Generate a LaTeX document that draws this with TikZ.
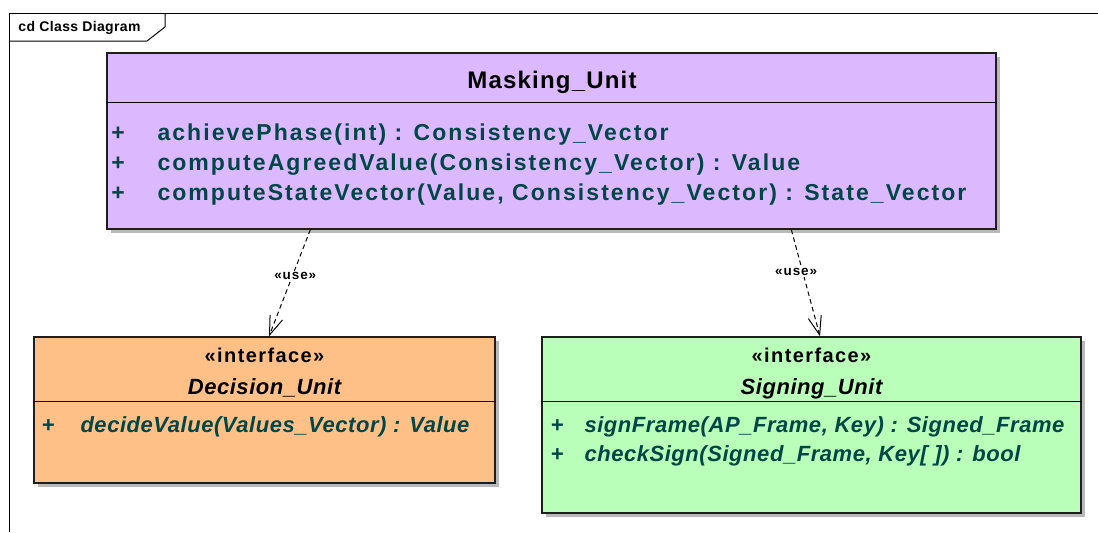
\documentclass[tikz,border=0pt]{standalone}
\usepackage{fontspec}
\setmainfont{Liberation Sans}
\newfontfamily\umlfont[LetterSpace=9]{Liberation Sans}
\newfontfamily\umltitlefont[LetterSpace=5]{Liberation Sans}
\newfontfamily\umlitfont[LetterSpace=2.5]{Liberation Sans}
\newfontfamily\umlstereofont[LetterSpace=7]{Liberation Sans}
\usetikzlibrary{arrows.meta,positioning,calc,shadows}

\definecolor{maskfill}{RGB}{220,185,255}
\definecolor{decfill}{RGB}{255,192,136}
\definecolor{signfill}{RGB}{185,255,185}
\definecolor{optext}{RGB}{0,70,70}
\definecolor{shadowgrey}{RGB}{185,185,185}

\tikzset{every picture/.style={line width=0.75pt}}
\tikzset{
  classbox/.style={draw={rgb,255:red,30;green,30;blue,30}, line width=1pt, inner sep=0pt,
    general shadow={fill=shadowgrey, shadow xshift=3pt, shadow yshift=-3pt}},
  classname/.style={anchor=base, inner sep=0pt, font=\umltitlefont\bfseries\fontsize{18}{21}\selectfont},
  stereo/.style={anchor=base, inner sep=0pt, font=\umlstereofont\bfseries\fontsize{15}{18}\selectfont},
  ifname/.style={anchor=base, inner sep=0pt, font=\umlitfont\bfseries\itshape\fontsize{16.5}{19}\selectfont},
  opline/.style={anchor=base west, inner sep=0pt, text=optext, font=\umlfont\bfseries\fontsize{17.25}{20}\selectfont},
  opplus/.style={anchor=base, inner sep=0pt, text=optext, font=\umlfont\bfseries\fontsize{17.25}{20}\selectfont},
  ifop/.style={anchor=base west, inner sep=0pt, text=optext, font=\umlitfont\bfseries\itshape\fontsize{16.5}{19}\selectfont},
  ifplus/.style={anchor=base, inner sep=0pt, text=optext, font=\umlitfont\bfseries\itshape\fontsize{16.5}{19}\selectfont},
  usedep/.style={dash pattern=on 3.5pt off 2.5pt, -{Straight Barb[length=14pt,width=10pt]}},
  uselabel/.style={fill=white, inner sep=1pt, font=\umlstereofont\bfseries\fontsize{10.1}{12}\selectfont}
}

\begin{document}
\begin{tikzpicture}[x=0.75pt,y=0.75pt,yscale=-1,xscale=1]
		\useasboundingbox (0,0) rectangle (1098,532);
		
		%Frame
		\draw (9,532) -- (9,13) -- (1098,13) ;
		\draw (9,41) -- (147,41) -- (165,27) -- (165,13) ;
		\node [anchor=base west, inner sep=0pt, font=\umlitfont\bfseries\fontsize{10.5}{12}\selectfont] (frametitle) at (18,31) {cd Class Diagram};
		
		%Class: Masking_Unit
		\node [classbox, fill=maskfill, minimum width=666.75pt, minimum height=132pt] (mask) at (551.5,141) {};
		\draw ($(mask.north west)+(0,50)$) -- ($(mask.north east)+(0,50)$) ;
		\node [classname] (maskname) at (552,88) {Masking\_Unit};
		\node [opplus] (mplus1) at (118,140) {+};
		\node [opplus] (mplus2) at (118,170) {+};
		\node [opplus] (mplus3) at (118,200) {+};
		\node [opline] (mop1) at (157,140) {achievePhase(int) : Consistency\_Vector};
		\node [opline] (mop2) at (157,170) {computeAgreedValue(Consistency\_Vector) : Value};
		\node [opline] (mop3) at (157,200) {computeStateVector(Value, Consistency\_Vector) : State\_Vector};
		
		%Interface: Decision_Unit
		\node [classbox, fill=decfill, minimum width=345.75pt, minimum height=109.5pt] (dec) at (264.5,410) {};
		\draw ($(dec.north west)+(0,65)$) -- ($(dec.north east)+(0,65)$) ;
		\node [stereo] (decstereo) at (264.5,362.5) {«interface»};
		\node [ifname] (decname) at (264.5,394) {Decision\_Unit};
		\node [ifplus] (dplus1) at (48,432.5) {+};
		\node [ifop] (dop1) at (80,432.5) {decideValue(Values\_Vector) : Value};
		
		%Interface: Signing_Unit
		\node [classbox, fill=signfill, minimum width=404.25pt, minimum height=132pt] (sign) at (811.5,425) {};
		\draw ($(sign.north west)+(0,65)$) -- ($(sign.north east)+(0,65)$) ;
		\node [stereo] (signstereo) at (811.5,362.5) {«interface»};
		\node [ifname] (signname) at (811.5,394) {Signing\_Unit};
		\node [ifplus] (splus1) at (557,432) {+};
		\node [ifplus] (splus2) at (557,461) {+};
		\node [ifop] (sop1) at (584,432) {signFrame(AP\_Frame, Key) : Signed\_Frame};
		\node [ifop] (sop2) at (584,461) {checkSign(Signed\_Frame, Key[ ]) : bool};
		
		%Dependencies
		\coordinate (maskL) at ($(mask.south west)+(204,0)$);
		\coordinate (maskR) at ($(mask.south west)+(685,0)$);
		\coordinate (decTop) at ($(dec.north)+(4.5,0)$);
		\coordinate (signTop) at ($(sign.north)+(8.5,0)$);
		\draw [usedep] (maskL) -- node [uselabel, pos=0.43, xshift=2pt] (useL) {«use»} (decTop) ;
		\draw [usedep] (maskR) -- node [uselabel, pos=0.40, xshift=-5pt] (useR) {«use»} (signTop) ;
		
	\end{tikzpicture}
\end{document}
